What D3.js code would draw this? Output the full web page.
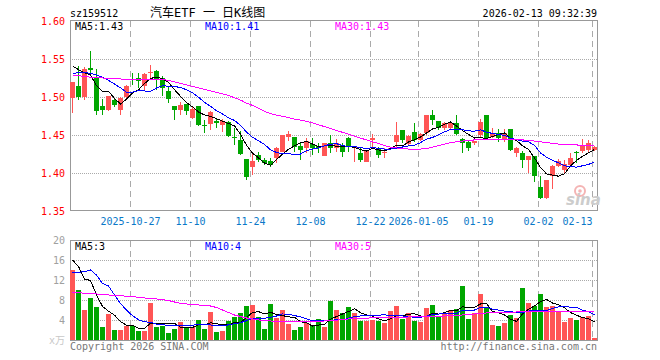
<!DOCTYPE html>
<html lang="zh">
  <meta charset="UTF-8" />
  <title>汽车ETF 日K线图</title>
  <style>
    body { margin: 0; background: #fff; }
    svg { display: block; }
    text { font-family: "DejaVu Sans Mono", "Noto Sans CJK SC", monospace; font-size: 10px; }
  </style>
  <script src="https://d3js.org/d3.v7.min.js"></script>
  <body>
    <div id="chart"></div>
    <script>
      // trading days shown in the chart
      const dates = [
        "2025-10-13","2025-10-14","2025-10-15","2025-10-16","2025-10-17","2025-10-20","2025-10-21","2025-10-22","2025-10-23","2025-10-24",
        "2025-10-27","2025-10-28","2025-10-29","2025-10-30","2025-10-31","2025-11-03","2025-11-04","2025-11-05","2025-11-06","2025-11-07",
        "2025-11-10","2025-11-11","2025-11-12","2025-11-13","2025-11-14","2025-11-17","2025-11-18","2025-11-19","2025-11-20","2025-11-21",
        "2025-11-24","2025-11-25","2025-11-26","2025-11-27","2025-11-28","2025-12-01","2025-12-02","2025-12-03","2025-12-04","2025-12-05",
        "2025-12-08","2025-12-09","2025-12-10","2025-12-11","2025-12-12","2025-12-15","2025-12-16","2025-12-17","2025-12-18","2025-12-19",
        "2025-12-22","2025-12-23","2025-12-24","2025-12-25","2025-12-26","2025-12-29","2025-12-30","2025-12-31","2026-01-05","2026-01-06",
        "2026-01-07","2026-01-08","2026-01-09","2026-01-12","2026-01-13","2026-01-14","2026-01-15","2026-01-16","2026-01-19","2026-01-20",
        "2026-01-21","2026-01-22","2026-01-23","2026-01-26","2026-01-27","2026-01-28","2026-01-29","2026-01-30","2026-02-02","2026-02-03",
        "2026-02-04","2026-02-05","2026-02-06","2026-02-09","2026-02-10","2026-02-11","2026-02-12","2026-02-13"
      ];

      const open = [
        1.499,1.515,1.500,1.538,1.525,1.488,1.4825,1.4965,1.4833,1.4996,
        1.524,1.525,1.514,1.531,1.5338,1.525,1.5075,1.4877,1.4833,1.4908,
        1.4724,1.4886,1.4636,1.4645,1.468,1.4627,1.4671,1.4477,1.443,1.4184,
        1.4075,1.4241,1.4171,1.4158,1.4193,1.4281,1.4478,1.4478,1.436,1.4325,
        1.4377,1.436,1.4228,1.439,1.4325,1.4368,1.4456,1.4325,1.4259,1.4149,
        1.4434,1.4325,1.4259,1.4316,1.4412,1.4566,1.4377,1.4544,1.4434,1.4522,
        1.4763,1.4684,1.4588,1.4588,1.4654,1.4443,1.4413,1.4391,1.45,1.4763,
        1.4478,1.453,1.4435,1.4574,1.4261,1.4261,1.4165,1.4226,1.3817,1.3674,
        1.3965,1.4087,1.4043,1.4109,1.427,1.4283,1.4304,1.4304
      ];
      const high = [
        1.520,1.541,1.540,1.560,1.537,1.497,1.501,1.4987,1.500,1.516,
        1.532,1.5316,1.532,1.542,1.535,1.527,1.514,1.4877,1.4934,1.4908,
        1.4886,1.4886,1.470,1.481,1.472,1.4715,1.469,1.4592,1.4557,1.4184,
        1.4263,1.4276,1.420,1.420,1.4346,1.4505,1.4553,1.4478,1.4412,1.4456,
        1.4456,1.439,1.439,1.450,1.4443,1.439,1.4478,1.4346,1.4346,1.4303,
        1.4509,1.4346,1.4325,1.4346,1.4675,1.4566,1.450,1.4654,1.4522,1.4763,
        1.4829,1.4684,1.4675,1.4684,1.4763,1.4457,1.4435,1.4422,1.4706,1.4763,
        1.4596,1.458,1.4575,1.458,1.4348,1.4283,1.4226,1.4226,1.3957,1.391,
        1.410,1.4183,1.4174,1.4261,1.4283,1.4443,1.4435,1.4357
      ];
      const low = [
        1.479,1.4956,1.4965,1.531,1.4759,1.4768,1.481,1.4864,1.476,1.499,
        1.516,1.5118,1.5097,1.5224,1.5097,1.5009,1.4921,1.4702,1.476,1.4768,
        1.4715,1.4614,1.4526,1.457,1.459,1.454,1.4469,1.4373,1.4241,1.3912,
        1.397,1.415,1.410,1.408,1.4127,1.427,1.4421,1.4281,1.4171,1.4259,
        1.4237,1.4259,1.4228,1.4259,1.4281,1.4215,1.4281,1.4149,1.4149,1.4149,
        1.4346,1.4193,1.4193,1.4303,1.4325,1.439,1.4368,1.4412,1.4425,1.450,
        1.4632,1.4566,1.4566,1.4575,1.450,1.4261,1.4283,1.437,1.4478,1.4435,
        1.4457,1.4413,1.4413,1.4283,1.4217,1.4065,1.400,1.3878,1.3652,1.3661,
        1.3787,1.408,1.3991,1.4087,1.413,1.4261,1.4261,1.4283
      ];
      const close = [
        1.520,1.500,1.537,1.536,1.481,1.483,1.501,1.490,1.4987,1.514,
        1.523,1.5215,1.5307,1.533,1.5228,1.5118,1.4978,1.4825,1.490,1.4811,
        1.4842,1.4636,1.4632,1.4803,1.466,1.468,1.4482,1.4473,1.425,1.3943,
        1.4153,1.4175,1.4127,1.4105,1.4325,1.450,1.4509,1.4346,1.4303,1.4421,
        1.4333,1.4333,1.439,1.4325,1.439,1.4281,1.4346,1.4346,1.4171,1.4303,
        1.4465,1.4237,1.4281,1.4333,1.450,1.4434,1.4491,1.4434,1.4513,1.4763,
        1.4697,1.4588,1.4654,1.4654,1.4509,1.4391,1.4326,1.4422,1.4674,1.4457,
        1.453,1.4457,1.4522,1.4304,1.4326,1.4174,1.4226,1.3965,1.3674,1.3904,
        1.4096,1.4152,1.4122,1.4196,1.4261,1.4357,1.4391,1.4339
      ];
      const ma5 = [
        1.541,1.536,1.532,1.529,1.5148,1.5074,1.5076,1.4982,1.4907,1.4973,
        1.5053,1.5094,1.5176,1.5244,1.5262,1.524,1.5192,1.5096,1.501,1.4926,
        1.4871,1.4803,1.4764,1.4745,1.4715,1.4682,1.4651,1.462,1.4509,1.4366,
        1.426,1.4199,1.413,1.4101,1.4177,1.4246,1.4313,1.4357,1.4397,1.4416,
        1.4382,1.4347,1.4356,1.436,1.4354,1.4344,1.4346,1.4338,1.4307,1.4289,
        1.4326,1.4304,1.4291,1.4324,1.4363,1.4357,1.4408,1.4438,1.4474,1.4527,
        1.458,1.4599,1.4643,1.4671,1.462,1.4559,1.4507,1.446,1.4464,1.4454,
        1.4482,1.4508,1.4528,1.4454,1.4428,1.4357,1.431,1.4199,1.4073,1.3989,
        1.3973,1.3958,1.399,1.4094,1.4165,1.4218,1.4265,1.4309
      ];
      const ma10 = [
        1.531,1.532,1.5325,1.531,1.529,1.526,1.522,1.517,1.512,1.5061,
        1.5064,1.5085,1.5079,1.5076,1.5118,1.5147,1.5143,1.5136,1.5127,1.5094,
        1.5055,1.4998,1.493,1.4877,1.4821,1.4777,1.4727,1.4692,1.4627,1.454,
        1.4471,1.4425,1.4375,1.4305,1.4271,1.4253,1.4256,1.4243,1.4249,1.4296,
        1.4314,1.433,1.4357,1.4379,1.4385,1.4363,1.4347,1.4347,1.4334,1.4322,
        1.4335,1.4325,1.4315,1.4315,1.4326,1.4342,1.4356,1.4365,1.4399,1.4445,
        1.4468,1.4503,1.4541,1.4573,1.4574,1.4569,1.4553,1.4552,1.4568,1.4537,
        1.4521,1.4507,1.4494,1.4459,1.4441,1.4419,1.4409,1.4364,1.4264,1.4208,
        1.4165,1.4134,1.4094,1.4084,1.4077,1.4095,1.4112,1.4149
      ];
      const ma30 = [
        1.529,1.528,1.527,1.526,1.5255,1.525,1.5246,1.524,1.5237,1.5235,
        1.5235,1.5235,1.5235,1.5235,1.5235,1.523,1.522,1.520,1.518,1.516,
        1.514,1.512,1.510,1.508,1.506,1.504,1.502,1.499,1.496,1.492,
        1.489,1.485,1.481,1.478,1.476,1.4745,1.473,1.471,1.4695,1.468,
        1.466,1.4635,1.461,1.4585,1.456,1.4535,1.451,1.4485,1.446,1.4435,
        1.441,1.439,1.436,1.434,1.433,1.432,1.4315,1.4315,1.4315,1.432,
        1.434,1.436,1.438,1.440,1.441,1.442,1.443,1.4435,1.444,1.444,
        1.4443,1.4443,1.4443,1.4443,1.444,1.4435,1.443,1.442,1.441,1.440,
        1.439,1.438,1.438,1.4375,1.437,1.436,1.4358,1.4355
      ];

      // volume, 万
      const volume = [
        14.0,10.0,6.0,8.4,6.67,2.6,5.2,2.0,2.0,2.87,
        2.87,1.87,1.87,7.47,2.67,2.87,1.47,2.2,3.6,2.67,
        2.67,4.0,2.27,5.6,1.67,1.8,3.87,4.53,5.47,6.8,
        6.93,4.6,2.27,7.2,4.4,6.0,3.2,2.0,2.67,3.33,
        2.8,4.13,2.6,7.87,6.0,5.4,6.6,5.4,3.87,3.87,
        4.07,3.87,3.47,5.87,6.8,4.2,5.47,3.87,3.67,6.47,
        7.0,4.87,5.27,6.0,6.2,10.8,4.27,5.47,9.27,6.6,
        3.0,2.8,3.4,5.0,4.47,10.4,7.47,6.8,9.27,6.6,
        6.87,5.8,3.67,4.47,3.93,4.53,4.87,0.47
      ];
      const volMa5 = [
        16.0,14.7,12.2,11.9,9.01,6.73,5.77,4.97,3.69,2.93,
        2.99,2.32,2.3,3.39,3.35,3.35,3.27,3.34,2.56,2.56,
        2.52,3.03,3.04,3.44,3.24,3.07,3.04,3.49,3.47,4.49,
        5.52,5.67,5.21,5.56,5.08,4.89,4.61,4.56,3.65,3.44,
        2.8,2.99,3.11,4.15,4.68,5.2,5.69,6.25,5.45,5.03,
        4.76,4.22,3.83,4.23,4.82,4.84,5.16,5.24,4.8,4.74,
        5.3,5.18,5.46,5.92,5.87,6.63,6.51,6.55,7.2,7.28,
        5.72,5.43,5.01,4.16,3.73,5.21,6.15,6.83,7.68,8.11,
        7.4,7.07,6.44,5.48,4.95,4.48,4.29,3.65
      ];
      const volMa10 = [
        13.47,13.53,13.67,14.0,13.0,11.3,10.8,9.0,7.3,5.97,
        4.86,4.05,3.64,3.54,3.14,3.17,2.80,2.82,2.98,2.96,
        2.94,3.15,3.19,3.0,2.9,2.8,3.04,3.27,3.46,3.87,
        4.29,4.35,4.35,4.51,4.79,5.21,5.14,4.89,4.61,4.26,
        3.85,3.8,3.83,3.9,4.06,4.0,4.34,4.68,4.8,4.85,
        4.98,4.96,5.04,4.84,4.92,4.8,4.69,4.54,4.52,4.78,
        5.07,5.17,5.35,5.36,5.3,5.96,5.84,6.0,6.56,6.58,
        6.18,5.97,5.78,5.68,5.51,5.47,5.79,5.92,5.92,5.92,
        6.31,6.61,6.64,6.58,6.53,5.94,5.68,5.05
      ];
      const volMa30 = [
        9.5,9.45,9.35,9.25,9.2,9.1,9.0,8.95,8.85,8.75,
        8.65,8.55,8.4,8.3,8.2,8.05,7.9,7.6,7.35,7.2,
        7.1,7.0,6.9,6.8,6.5,6.0,5.5,5.0,4.7,4.4,
        4.2,4.0,3.9,3.8,3.75,3.7,3.65,3.65,3.65,3.7,
        3.72,3.75,3.8,3.85,3.95,4.1,4.2,4.3,4.33,4.38,
        4.42,4.45,4.5,4.52,4.55,4.57,4.6,4.62,4.65,4.67,
        4.7,4.75,4.8,4.85,4.9,5.0,5.1,5.2,5.33,5.4,
        5.45,5.5,5.55,5.57,5.6,5.62,5.65,5.67,5.67,5.67,
        5.67,5.67,5.67,5.67,5.67,5.67,5.67,5.66
      ];

      const priceTicks = [1.35, 1.40, 1.45, 1.50, 1.55, 1.60];
      const volTicks = [0, 4, 8, 12, 16, 20];
      const tickDates = ["2025-10-27","2025-11-10","2025-11-24","2025-12-08","2025-12-22","2026-01-05","2026-01-19","2026-02-02","2026-02-13"];
      const tickLabels = ["2025-10-27","11-10","11-24","12-08","12-22","2026-01-05","01-19","02-02","02-13"];

      const RED = "#ff5555", GREEN = "#00a600";
      const gridColor = "#aaaaaa";

      const svg = d3.select("#chart").append("svg")
        .attr("width", 660).attr("height", 360)
        .attr("shape-rendering", "crispEdges");

      // scales
      var x = d3.scaleBand().domain(dates).range([69.5, 597.5])
        .paddingInner(1 / 6).paddingOuter(1 / 12);
      var y = d3.scaleLinear().domain([1.35, 1.60]).range([211, 21]);
      var yv = d3.scaleLinear().domain([0, 20]).range([340, 240]);

      // grid - price panel
      svg.append("g").selectAll("line")
        .data(priceTicks.slice(1, -1))
        .join("line")
        .attr("x1", 70).attr("x2", 597)
        .attr("y1", d => Math.round(y(d)) + 0.5).attr("y2", d => Math.round(y(d)) + 0.5)
        .attr("stroke", gridColor).attr("stroke-dasharray", "1,1");
      svg.append("g").selectAll("line")
        .data(tickDates)
        .join("line")
        .attr("x1", d => x(d) + 0.5).attr("x2", d => x(d) + 0.5)
        .attr("y1", 21).attr("y2", 210)
        .attr("stroke", gridColor).attr("stroke-dasharray", "6,4");

      // grid - volume panel
      svg.append("g").selectAll("line")
        .data(volTicks.slice(1, -1))
        .join("line")
        .attr("x1", 70).attr("x2", 597)
        .attr("y1", d => yv(d) + 0.5).attr("y2", d => yv(d) + 0.5)
        .attr("stroke", gridColor).attr("stroke-dasharray", "1,1");
      svg.append("g").selectAll("line")
        .data(tickDates)
        .join("line")
        .attr("x1", d => x(d) + 0.5).attr("x2", d => x(d) + 0.5)
        .attr("y1", 241).attr("y2", 340)
        .attr("stroke", gridColor).attr("stroke-dasharray", "6,4");

      // frames
      svg.append("rect").attr("x", 70.5).attr("y", 20.5).attr("width", 527).attr("height", 190)
        .attr("fill", "none").attr("stroke", "#999");
      svg.append("rect").attr("x", 70.5).attr("y", 240.5).attr("width", 527).attr("height", 100)
        .attr("fill", "none").attr("stroke", "#999");

      // sina watermark
      const logo = svg.append("g").attr("shape-rendering", "auto");
      logo.append("circle").attr("cx", 580).attr("cy", 191).attr("r", 5)
        .attr("fill", "none").attr("stroke", "#f4b4b4").attr("stroke-width", 2);
      logo.append("circle").attr("cx", 580).attr("cy", 191).attr("r", 1.8).attr("fill", "#f4b4b4");
      logo.append("text").attr("x", 566).attr("y", 205).text("sina")
        .style("font-family", "'DejaVu Sans', sans-serif").style("font-size", "15px")
        .style("font-weight", "bold").style("font-style", "italic").attr("fill", "#cccccc");

      const idx = d3.range(dates.length);
      const up = i => close[i] >= open[i];

      // candles
      const candles = svg.append("g");
      candles.selectAll("line")
        .data(idx)
        .join("line")
        .attr("x1", i => x(dates[i]) + 2.5).attr("x2", i => x(dates[i]) + 2.5)
        .attr("y1", i => y(high[i])).attr("y2", i => y(low[i]))
        .attr("stroke", i => up(i) ? RED : GREEN);
      candles.selectAll("rect")
        .data(idx)
        .join("rect")
        .attr("x", i => x(dates[i]))
        .attr("width", x.bandwidth())
        .attr("y", i => y(Math.max(open[i], close[i])))
        .attr("height", i => Math.max(1, y(Math.min(open[i], close[i])) - y(Math.max(open[i], close[i]))))
        .attr("fill", i => up(i) ? RED : GREEN);

      // volume bars
      svg.append("g").selectAll("rect")
        .data(idx)
        .join("rect")
        .attr("x", i => x(dates[i]))
        .attr("width", x.bandwidth())
        .attr("y", i => yv(volume[i]))
        .attr("height", i => yv(0) - yv(volume[i]))
        .attr("fill", i => up(i) ? RED : GREEN);

      // moving averages
      function maLine(scale) {
        return d3.line().x((d, i) => x(dates[i]) + 2.5).y(d => scale(d));
      }
      const maSets = [
        [ma5, y, "#000000"], [ma10, y, "#0000ff"], [ma30, y, "#ff00ff"],
        [volMa5, yv, "#000000"], [volMa10, yv, "#0000ff"], [volMa30, yv, "#ff00ff"]
      ];
      maSets.forEach(([vals, scale, col]) => {
        svg.append("path").attr("d", maLine(scale)(vals))
          .attr("fill", "none").attr("stroke", col).attr("stroke-width", 1);
      });

      // axes
      svg.append("g").attr("transform", "translate(70,0)")
        .call(d3.axisLeft(y).tickValues(priceTicks).tickFormat(d3.format(".2f")).tickSize(0).tickPadding(5))
        .call(g => g.select(".domain").remove())
        .selectAll("text").attr("fill", "#ff0000");

      svg.append("g").attr("transform", "translate(70,0)")
        .call(d3.axisLeft(yv).tickValues(volTicks).tickFormat(d => d === 0 ? "x万" : d).tickSize(0).tickPadding(5))
        .call(g => g.select(".domain").remove())
        .selectAll("text").attr("fill", (d) => d === 0 ? "#c8c8c8" : "#a0a0a0");

      const xAxis = svg.append("g").attr("transform", "translate(-2,211)")
        .call(d3.axisBottom(x).tickValues(tickDates)
          .tickFormat(d => tickLabels[tickDates.indexOf(d)]).tickSize(0).tickPadding(7))
        .call(g => g.select(".domain").remove());
      xAxis.selectAll("text").attr("fill", "#0a78c8");
      xAxis.selectAll("text").filter(d => d === "2026-02-13").attr("text-anchor", "end");

      // header texts
      svg.append("text").attr("x", 70).attr("y", 16.5).text("sz159512").attr("fill", "#000");
      svg.append("text").attr("x", 150).attr("y", 17).text("汽车ETF 一 日K线图")
        .style("font-size", "12px").attr("fill", "#000");
      svg.append("text").attr("x", 597).attr("y", 16.5).attr("text-anchor", "end")
        .text("2026-02-13 09:32:39").attr("fill", "#000");

      const legends = [
        ["MA5:1.43", 75, 30, "#000000"], ["MA10:1.41", 205, 30, "#0000ff"], ["MA30:1.43", 335, 30, "#ff00ff"],
        ["MA5:3", 75, 250, "#000000"], ["MA10:4", 205, 250, "#0000ff"], ["MA30:5", 335, 250, "#ff00ff"]
      ];
      legends.forEach(([t, lx, ly, col]) => {
        svg.append("text").attr("x", lx).attr("y", ly).text(t).attr("fill", col);
      });

      svg.append("text").attr("x", 70).attr("y", 350).text("Copyright 2026 SINA.COM").attr("fill", "#777");
      svg.append("text").attr("x", 597).attr("y", 350).attr("text-anchor", "end")
        .text("http://finance.sina.com.cn").attr("fill", "#777");
    </script>
  </body>
</html>
